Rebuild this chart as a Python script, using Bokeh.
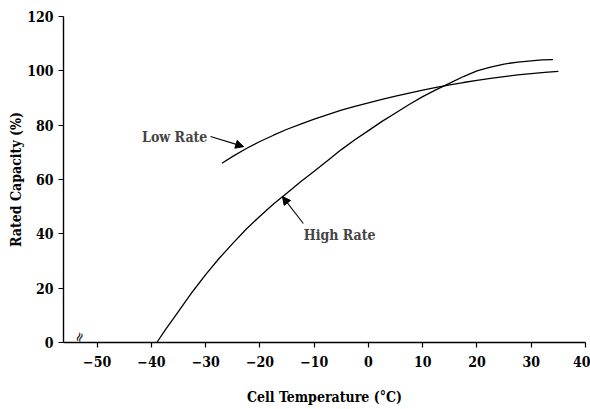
import numpy as np
from bokeh.plotting import figure
from bokeh.models import Range1d, Arrow, NormalHead, Label
from bokeh.core.properties import value
from bokeh.embed import file_html
from bokeh.resources import INLINE

# Data
high_T = [-39, -37.5, -35, -32.5, -30, -27.5, -25, -22.5, -20, -17.5, -15, -12.5, -10, -7.5, -5, -2.5,
          0, 2.5, 5, 7.5, 10, 12.5, 15, 17.5, 20, 22.5, 25, 27.5, 30, 32, 34]
high_cap = [0, 4.5, 11.5, 18.5, 25, 31, 36.5, 41.8, 46.5, 51, 55, 59.2, 63, 67, 71, 74.6,
            78, 81.4, 84.5, 87.6, 90.5, 93.1, 95.5, 97.9, 100, 101.4, 102.5, 103.2, 103.7, 104.0, 104.1]
low_T = [-27, -25, -22.5, -20, -17.5, -15, -12.5, -10, -7.5, -5, -2.5, 0, 2.5, 5, 7.5, 10,
         12.5, 15, 17.5, 20, 22.5, 25, 27.5, 30, 32.5, 35]
low_cap = [66, 68.5, 71.4, 74, 76.3, 78.5, 80.4, 82.2, 83.9, 85.5, 86.9, 88.2, 89.5, 90.7, 91.8, 92.9,
           93.9, 94.8, 95.7, 96.5, 97.2, 97.9, 98.5, 99.0, 99.4, 99.8]
x_ticks = [-50, -40, -30, -20, -10, 0, 10, 20, 30, 40]
y_ticks = [0, 20, 40, 60, 80, 100, 120]

FONT = "DejaVu Serif Condensed"
FS = "14px"

p = figure(width=590, height=409, output_backend="svg", toolbar_location=None,
           x_range=Range1d(-56.2, 40), y_range=Range1d(0, 120),
           min_border_left=63, min_border_top=16, min_border_right=5, min_border_bottom=67)
p.outline_line_color = None
p.xgrid.visible = False
p.ygrid.visible = False

for ax in (p.xaxis[0], p.yaxis[0]):
    ax.axis_line_color = "black"
    ax.axis_line_width = 1.4
    ax.major_tick_line_color = "black"
    ax.major_tick_line_width = 1.2
    ax.major_tick_out = 5
    ax.major_tick_in = 0
    ax.minor_tick_line_color = None
    ax.major_label_text_font = FONT
    ax.major_label_text_font_size = FS
    ax.major_label_text_font_style = "bold"
    ax.major_label_text_color = "black"
    ax.axis_label_text_font = FONT
    ax.axis_label_text_font_size = FS
    ax.axis_label_text_font_style = "bold"
    ax.axis_label_text_color = "black"

p.xaxis.ticker = x_ticks
p.yaxis.ticker = y_ticks
p.xaxis.axis_label = "Cell Temperature (°C)"
p.yaxis.axis_label = "Rated Capacity (%)"
p.xaxis.major_label_standoff = 8
p.yaxis.major_label_standoff = 5
p.xaxis.axis_label_standoff = 19
p.yaxis.axis_label_standoff = 0

p.line(high_T, high_cap, line_color="black", line_width=1.3)
p.line(low_T, low_cap, line_color="black", line_width=1.3)

# axis break mark
break_x = -53.3
p.text(x=[break_x], y=[2.0], text=["≈"], angle=1.2, text_align="center",
       text_baseline="middle", text_font=value("DejaVu Sans"), text_font_size="13px",
       text_color="black")

# annotations
p.add_layout(Label(x=-35.7, y=75.8, text="Low Rate", text_font=FONT, text_font_size=FS,
                   text_font_style="bold", text_baseline="middle", text_align="center"))
p.add_layout(Label(x=-5.3, y=39.4, text="High Rate", text_font=FONT, text_font_size=FS,
                   text_font_style="bold", text_baseline="middle", text_align="center"))
p.add_layout(Arrow(x_start=-29.1, y_start=75.8, x_end=-23.0, y_end=72.1,
                   line_color="black", line_width=1.1,
                   end=NormalHead(size=8, fill_color="black", line_color="black")))
p.add_layout(Arrow(x_start=-12.0, y_start=43.8, x_end=-15.85, y_end=53.7,
                   line_color="black", line_width=1.1,
                   end=NormalHead(size=8, fill_color="black", line_color="black")))

open("out.html", "w").write(file_html(p, INLINE))
